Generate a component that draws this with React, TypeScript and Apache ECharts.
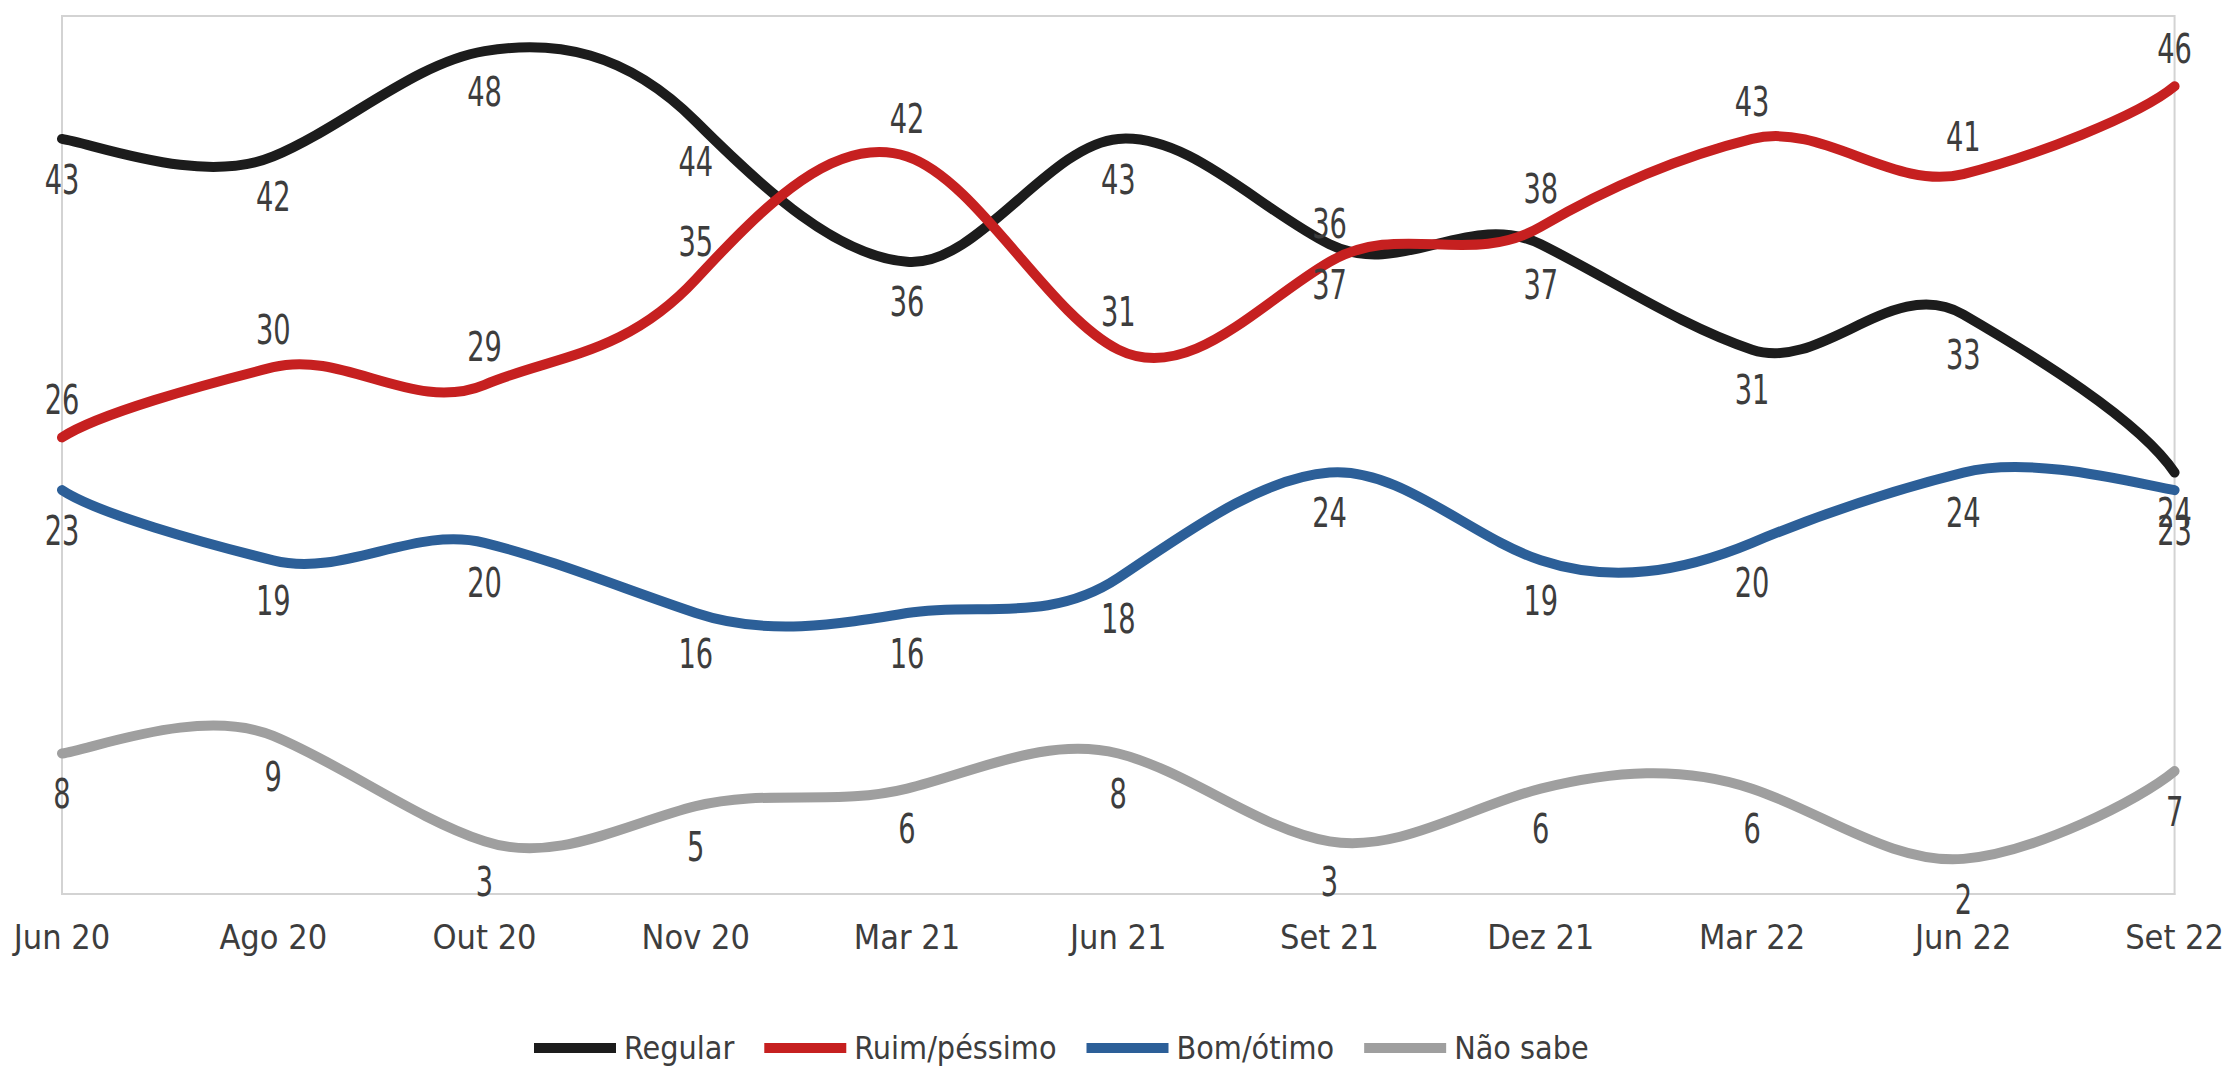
import React, { useEffect, useRef } from "react";
import * as echarts from "echarts";

// Survey waves
const categories = [
  "Jun 20", "Ago 20", "Out 20", "Nov 20", "Mar 21", "Jun 21",
  "Set 21", "Dez 21", "Mar 22", "Jun 22", "Set 22",
];

// Percentages per answer
const regular = [43, 42, 48, 44, 36, 43, 37, 37, 31, 33, 24];
const ruimPessimo = [26, 30, 29, 35, 42, 31, 36, 38, 43, 41, 46];
const bomOtimo = [23, 19, 20, 16, 16, 18, 24, 19, 20, 24, 23];
const naoSabe = [8, 9, 3, 5, 6, 8, 3, 6, 6, 2, 7];

// Which side of its line each series prints its values on
const labelSide = {
  regular: "below",
  ruimPessimo: "above",
  bomOtimo: "below",
  naoSabe: "below",
};

const FONT = "'Liberation Sans Narrow', 'DejaVu Sans Condensed', sans-serif";
const TEXT_COLOR = "#3d3d3d";
// Tangent factors of the smoothing spline (horizontal / vertical)
const TANGENT_X = 1 / 6;
const TANGENT_Y = 1 / 3;

// Smooth Bezier path through the projected points (curve passes through every point)
function splinePath(pts: number[][]): string {
  let d = `M${pts[0][0]},${pts[0][1]}`;
  for (let i = 0; i < pts.length - 1; i++) {
    const p0 = pts[Math.max(i - 1, 0)];
    const p1 = pts[i];
    const p2 = pts[i + 1];
    const p3 = pts[Math.min(i + 2, pts.length - 1)];
    const c1x = p1[0] + (p2[0] - p0[0]) * TANGENT_X;
    const c1y = p1[1] + (p2[1] - p0[1]) * TANGENT_Y;
    const c2x = p2[0] - (p3[0] - p1[0]) * TANGENT_X;
    const c2y = p2[1] - (p3[1] - p1[1]) * TANGENT_Y;
    d += ` C${c1x},${c1y} ${c2x},${c2y} ${p2[0]},${p2[1]}`;
  }
  return d;
}

function curveSeries(name: string, color: string, values: number[], side: string) {
  return {
    name,
    type: "custom",
    color,
    itemStyle: { color },
    clip: false,
    data: values.map((v, i) => [i, v]),
    encode: { x: 0, y: 1 },
    renderItem: (params: any, api: any) => {
      const i = params.dataIndex;
      const children: any[] = [];
      if (i === 0) {
        const pts = values.map((v, k) => api.coord([k, v]));
        children.push({
          type: "path",
          shape: { pathData: splinePath(pts) },
          style: { fill: "none", stroke: color, lineWidth: 10, lineCap: "round", lineJoin: "round" },
          z2: 1,
        });
      }
      const v = api.value(1);
      const [x, y] = api.coord([i, v]);
      const above = side === "above";
      children.push({
        type: "text",
        x,
        y: above ? y - 37 : y + 41,
        scaleX: 0.74,
        z2: 5,
        style: {
          text: String(v),
          x: 0,
          y: 0,
          align: "center",
          verticalAlign: "middle",
          fontSize: 41,
          fontFamily: FONT,
          fill: TEXT_COLOR,
        },
      });
      return { type: "group", children };
    },
  };
}

export default function App() {
  const ref = useRef<HTMLDivElement>(null);

  useEffect(() => {
    if (!ref.current) return;
    const chart = echarts.init(ref.current, null, { renderer: "svg" });
    chart.setOption({
      animation: false,
      backgroundColor: "#ffffff",
      textStyle: { fontFamily: FONT },
      grid: {
        show: true,
        left: 62,
        right: 48,
        top: 16,
        bottom: 174,
        borderColor: "#d3d3d3",
        borderWidth: 2,
        containLabel: false,
      },
      xAxis: {
        type: "category",
        data: categories,
        boundaryGap: false,
        axisLine: { show: true, lineStyle: { color: "#d3d3d3", width: 2 } },
        axisTick: { show: false },
        splitLine: { show: false },
        axisLabel: {
          fontSize: 34,
          fontFamily: FONT,
          color: TEXT_COLOR,
          margin: 26,
        },
      },
      yAxis: {
        type: "value",
        min: 0,
        max: 50,
        show: false,
        splitLine: { show: false },
      },
      legend: {
        left: 529,
        top: 1027,
        icon: "rect",
        itemWidth: 82,
        itemHeight: 10,
        itemGap: 30,
        textStyle: {
          fontSize: 32,
          fontFamily: FONT,
          color: TEXT_COLOR,
          padding: [0, 0, 0, 3],
        },
        data: ["Regular", "Ruim/péssimo", "Bom/ótimo", "Não sabe"],
      },
      series: [
        curveSeries("Regular", "#1c1c1c", regular, labelSide.regular),
        curveSeries("Ruim/péssimo", "#c62020", ruimPessimo, labelSide.ruimPessimo),
        curveSeries("Bom/ótimo", "#2c5f98", bomOtimo, labelSide.bomOtimo),
        curveSeries("Não sabe", "#9f9f9f", naoSabe, labelSide.naoSabe),
      ],
    });
    return () => chart.dispose();
  }, []);

  return (
    <div
      ref={ref}
      style={{ position: "absolute", left: 0, top: 0, width: 2227, height: 1068, background: "#fff" }}
    />
  );
}
